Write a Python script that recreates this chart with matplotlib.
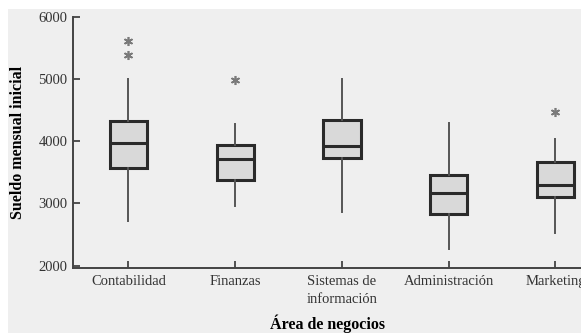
import matplotlib
matplotlib.use("Agg")
import matplotlib.pyplot as plt
from matplotlib.patches import Rectangle

# starting monthly salary by business area (box plot summary)
areas = ["Contabilidad", "Finanzas", "Sistemas de\ninformación",
         "Administración", "Marketing"]
whisker_low = [2720, 2960, 2860, 2270, 2530]
q1 = [3570, 3380, 3730, 2830, 3110]
median = [3970, 3720, 3930, 3165, 3300]
q3 = [4330, 3940, 4350, 3460, 3660]
whisker_high = [5000, 4270, 5010, 4300, 4040]
outliers = [[5390, 5610], [4990], [], [], [4470]]

yticks = [2000, 3000, 4000, 5000, 6000]

plt.rcParams["font.family"] = ["Liberation Serif", "DejaVu Serif"]

fig = plt.figure(figsize=(5.81, 3.33), dpi=100)
fig.patch.set_facecolor("white")
fig.patches.append(Rectangle((8 / 581, 0), 1, 1 - 9 / 333,
                             transform=fig.transFigure,
                             facecolor="#efefef", edgecolor="none",
                             zorder=-10))

ax = fig.add_axes([73 / 581, 1 - 268 / 333, 1 - 73 / 581, (268 - 17) / 333])
ax.set_facecolor("none")

stats = []
for i in range(len(areas)):
    stats.append({
        "whislo": whisker_low[i], "q1": q1[i], "med": median[i],
        "q3": q3[i], "whishi": whisker_high[i], "fliers": outliers[i],
    })

ax.bxp(stats, positions=range(1, len(areas) + 1), widths=0.35,
       patch_artist=True, showcaps=False,
       boxprops=dict(facecolor="#d9d9d9", edgecolor="#2a2a2a", linewidth=2.2),
       medianprops=dict(color="#2a2a2a", linewidth=2.2),
       whiskerprops=dict(color="#555555", linewidth=1.4),
       flierprops=dict(marker=(6, 2, 0), markersize=6.5,
                       markeredgecolor="#7a7a7a", markeredgewidth=1.2,
                       linestyle="none"))

ax.set_xlim(0.48, 5.24)
ax.set_ylim(1960, 6000)
ax.set_yticks(yticks)
ax.set_xticks(range(1, len(areas) + 1))
ax.set_xticklabels(areas, linespacing=1.55)

for side in ["top", "right"]:
    ax.spines[side].set_visible(False)
for side in ["left", "bottom"]:
    ax.spines[side].set_color("#444444")
    ax.spines[side].set_linewidth(1.4)

ax.tick_params(direction="in", length=5, width=1.3, color="#444444",
               labelsize=10.5, labelcolor="#333333")
ax.tick_params(axis="y", pad=4)
ax.tick_params(axis="x", pad=5)

ax.set_ylabel("Sueldo mensual inicial", fontsize=11.5, fontweight="bold",
              labelpad=9)
ax.set_xlabel("Área de negocios", fontsize=11.5, fontweight="bold",
              labelpad=6)

fig.savefig("out.png", dpi=100)
